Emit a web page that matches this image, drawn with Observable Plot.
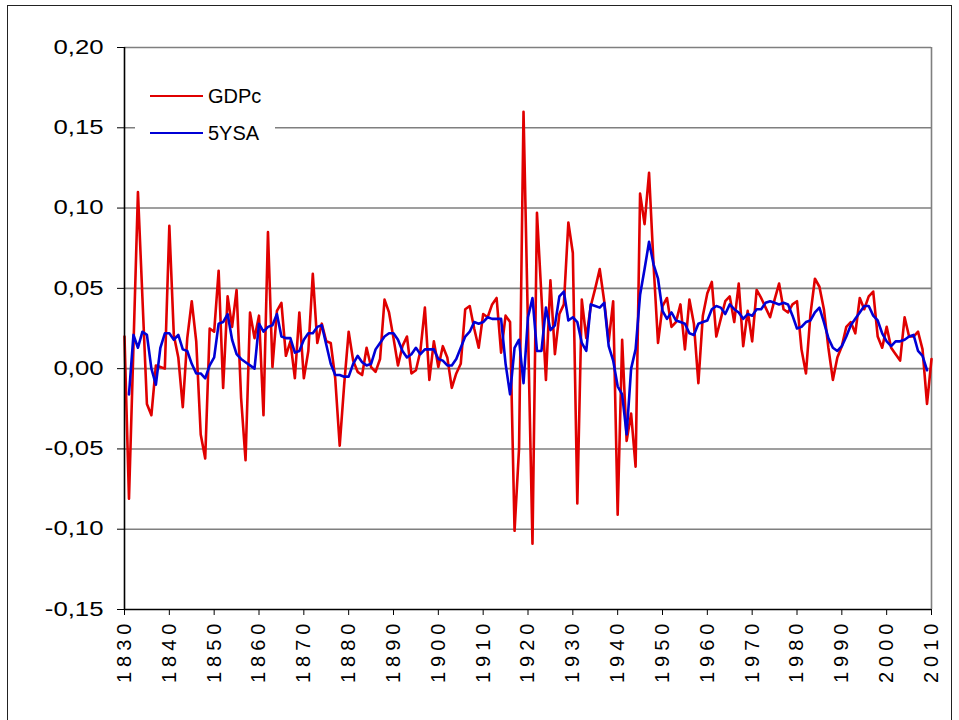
<!DOCTYPE html>
<html>
<head>
<meta charset="utf-8">
<script src="https://cdn.jsdelivr.net/npm/d3@7"></script>
<script src="https://cdn.jsdelivr.net/npm/@observablehq/plot@0.6"></script>
<style>
  body { margin: 0; background: #fff; }
  #wrap { position: relative; width: 959px; height: 720px; overflow: hidden; font-family: "Liberation Sans", Arial, sans-serif; }
  #frame { position: absolute; left: 7px; top: 5px; width: 945px; height: 760px; border: 1px solid #222; box-sizing: border-box; }
  #chart { position: absolute; left: 0; top: 0; }
  #chart svg .xax text { letter-spacing: 5px; }
  #legend { position: absolute; left: 135px; top: 76px; width: 140px; height: 74px; background: #fff; }
  .item { position: absolute; left: 15px; height: 24px; display: flex; align-items: center; font-size: 20px; color: #000; }
  .swatch { width: 53px; height: 0; border-top: 2.5px solid; margin-right: 5px; }
</style>
</head>
<body>
<div id="wrap">
  <div id="frame"></div>
  <div id="chart"></div>
  <div id="legend"></div>
</div>
<script>
// ---- data ----
const gdpcStart = 1830;
const gdpc = [
  0.020, -0.081, 0.014, 0.110, 0.044, -0.022, -0.029, 0.002, 0.001, 0.000,   // 1830-1839
  0.089, 0.021, 0.007, -0.024, 0.019, 0.042, 0.017, -0.041, -0.056, 0.025,   // 1840-1849
  0.023, 0.061, -0.012, 0.045, 0.026, 0.049, -0.018, -0.057, 0.035, 0.019,   // 1850-1859
  0.033, -0.029, 0.085, 0.001, 0.036, 0.041, 0.008, 0.017, -0.006, 0.035,    // 1860-1869
  -0.006, 0.011, 0.059, 0.016, 0.028, 0.017, 0.016, -0.006, -0.048, -0.010,  // 1870-1879
  0.023, 0.005, -0.002, -0.004, 0.013, 0.001, -0.002, 0.006, 0.043, 0.035,   // 1880-1889
  0.019, 0.002, 0.014, 0.020, -0.003, -0.001, 0.011, 0.038, -0.007, 0.017,   // 1890-1899
  0.001, 0.014, 0.007, -0.012, -0.003, 0.003, 0.037, 0.039, 0.025, 0.013,    // 1900-1909
  0.034, 0.032, 0.040, 0.044, 0.010, 0.033, 0.029, -0.101, -0.050, 0.160,    // 1910-1919
  0.025, -0.109, 0.097, 0.045, -0.007, 0.055, 0.009, 0.034, 0.040, 0.091,    // 1920-1929
  0.072, -0.084, 0.043, 0.019, 0.039, 0.050, 0.062, 0.042, 0.017, 0.042,     // 1930-1939
  -0.091, 0.018, -0.045, -0.028, -0.061, 0.109, 0.090, 0.122, 0.065, 0.016,  // 1940-1949
  0.039, 0.044, 0.026, 0.029, 0.040, 0.012, 0.043, 0.028, -0.009, 0.033,     // 1950-1959
  0.047, 0.054, 0.020, 0.031, 0.042, 0.045, 0.029, 0.053, 0.014, 0.036,      // 1960-1969
  0.017, 0.049, 0.044, 0.038, 0.032, 0.043, 0.053, 0.037, 0.035, 0.040,      // 1970-1979
  0.042, 0.012, -0.003, 0.034, 0.056, 0.051, 0.037, 0.013, -0.007, 0.007,    // 1980-1989
  0.014, 0.026, 0.029, 0.022, 0.044, 0.037, 0.045, 0.048, 0.020, 0.013,      // 1990-1999
  0.026, 0.013, 0.009, 0.005, 0.032, 0.020, 0.020, 0.023, 0.012, -0.022,     // 2000-2009
  0.006                                                                      // 2010
];
const ysaStart = 1831;
const ysa = [
  -0.016, 0.021, 0.013, 0.023, 0.021, 0.000, -0.010, 0.013, 0.022,           // 1831-1839
  0.022, 0.018, 0.021, 0.012, 0.011, 0.003, -0.003, -0.003, -0.006, 0.002,   // 1840-1849
  0.007, 0.028, 0.029, 0.034, 0.018, 0.009, 0.006, 0.004, 0.002, 0.000,     // 1850-1859
  0.028, 0.023, 0.026, 0.027, 0.034, 0.020, 0.019, 0.019, 0.010, 0.011,     // 1860-1869
  0.018, 0.022, 0.022, 0.026, 0.027, 0.015, 0.003, -0.004, -0.004, -0.005,  // 1870-1879
  -0.005, 0.003, 0.008, 0.004, 0.002, 0.003, 0.012, 0.016, 0.020, 0.022,    // 1880-1889
  0.022, 0.018, 0.011, 0.007, 0.009, 0.013, 0.009, 0.012, 0.012, 0.012,     // 1890-1899
  0.006, 0.005, 0.002, 0.002, 0.006, 0.013, 0.020, 0.023, 0.029, 0.028,     // 1900-1909
  0.029, 0.032, 0.031, 0.031, 0.031, 0.003, -0.016, 0.013, 0.018, -0.009,   // 1910-1919
  0.032, 0.044, 0.011, 0.011, 0.038, 0.024, 0.027, 0.045, 0.048, 0.030,     // 1920-1929
  0.032, 0.029, 0.016, 0.011, 0.040, 0.039, 0.038, 0.041, 0.014, 0.005,     // 1930-1939
  -0.011, -0.016, -0.041, 0.000, 0.012, 0.046, 0.062, 0.079, 0.065, 0.056,  // 1940-1949
  0.036, 0.031, 0.035, 0.030, 0.029, 0.028, 0.022, 0.021, 0.028, 0.029,     // 1950-1959
  0.030, 0.037, 0.039, 0.038, 0.034, 0.040, 0.037, 0.035, 0.031, 0.034,     // 1960-1969
  0.033, 0.037, 0.037, 0.041, 0.042, 0.041, 0.040, 0.041, 0.040, 0.033,     // 1970-1979
  0.025, 0.026, 0.029, 0.030, 0.035, 0.038, 0.029, 0.019, 0.013, 0.011,     // 1980-1989
  0.014, 0.020, 0.027, 0.031, 0.035, 0.039, 0.039, 0.033, 0.030, 0.022,     // 1990-1999
  0.017, 0.014, 0.017, 0.017, 0.018, 0.020, 0.021, 0.011, 0.008, -0.001     // 2000-2009
];
const seriesNames = ["GDPc", "5YSA"];
const seriesColors = ["#e00000", "#0000d6"];
const xTicks = [1830, 1840, 1850, 1860, 1870, 1880, 1890, 1900, 1910, 1920,
                1930, 1940, 1950, 1960, 1970, 1980, 1990, 2000, 2010];
const yTicks = [-0.15, -0.10, -0.05, 0.00, 0.05, 0.10, 0.15, 0.20];

// ---- build tables ----
const gdpcData = gdpc.map((v, i) => ({ year: gdpcStart + i, value: v }));
const ysaData = ysa.map((v, i) => ({ year: ysaStart + i, value: v }));
const fmt = d => d.toFixed(2).replace(".", ",");

const chart = Plot.plot({
  width: 959,
  height: 720,
  marginLeft: 124,
  marginRight: 28,
  marginTop: 47,
  marginBottom: 111,
  style: { fontFamily: '"Liberation Sans", Arial, sans-serif', fontSize: "19.5px", color: "#000", background: "transparent", overflow: "visible" },
  x: { domain: [xTicks[0], xTicks[xTicks.length - 1]] },
  y: { domain: [yTicks[0], yTicks[yTicks.length - 1]] },
  marks: [
    Plot.gridY(yTicks.slice(1), { stroke: "#7f7f7f", strokeOpacity: 1, strokeWidth: 1.6 }),
    Plot.ruleX([xTicks[xTicks.length - 1]], { stroke: "#7f7f7f", strokeWidth: 1.6 }),
    Plot.line(gdpcData, { x: "year", y: "value", stroke: seriesColors[0], strokeWidth: 2.6 }),
    Plot.line(ysaData, { x: "year", y: "value", stroke: seriesColors[1], strokeWidth: 2.6 }),
    Plot.ruleX([xTicks[0]], { stroke: "#000", strokeWidth: 1.6 }),
    Plot.ruleY([yTicks[0]], { stroke: "#000", strokeWidth: 1.6 }),
    Plot.axisY(yTicks, { tickSize: 7, tickPadding: 14, tickFormat: fmt, label: null, className: "yax" }),
    Plot.axisX(xTicks, { tickSize: 6, tickPadding: 3, tickFormat: d => String(d), tickRotate: -90, label: null, className: "xax", fontSize: "20px" })
  ]
});
document.getElementById("chart").appendChild(chart);

// widen the y tick labels as in the original (wide, spaced glyphs)
chart.querySelectorAll(".yax text").forEach(t => {
  const w = t.getComputedTextLength();
  t.setAttribute("textLength", (w * 1.32).toFixed(1));
  t.setAttribute("lengthAdjust", "spacingAndGlyphs");
});

// ---- legend ----
const legend = document.getElementById("legend");
seriesNames.forEach((name, i) => {
  const item = document.createElement("div");
  item.className = "item";
  item.style.top = (8 + i * 37) + "px";
  const sw = document.createElement("span");
  sw.className = "swatch";
  sw.style.borderColor = seriesColors[i];
  const tx = document.createElement("span");
  tx.textContent = name;
  item.appendChild(sw);
  item.appendChild(tx);
  legend.appendChild(item);
});
</script>
</body>
</html>
